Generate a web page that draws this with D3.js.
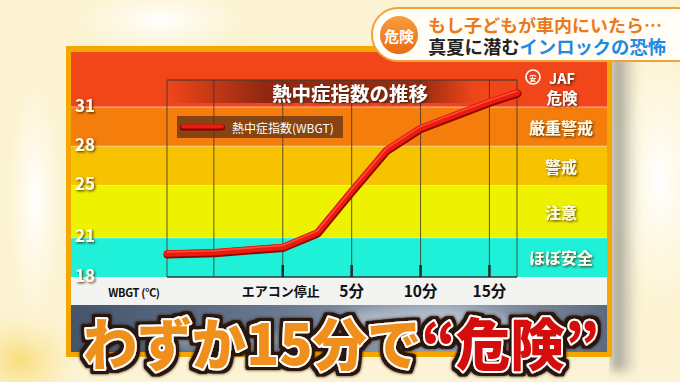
<!DOCTYPE html>
<html><head><meta charset="utf-8">
<script src="https://cdn.jsdelivr.net/npm/d3@7"></script>
<style>
html,body{margin:0;padding:0;background:#fdf6de;overflow:hidden}
svg{display:block}
text{font-family:"Noto Sans CJK JP","Noto Sans",sans-serif}
</style></head>
<body>
<script>
// ---- data ----
const times = [-8.4, -5, 0, 2.5, 5, 7.5, 10, 15, 17];           // minutes after A/C stop
const wbgt  = [19.8, 19.9, 20.3, 21.4, 24.6, 27.7, 29.4, 31.4, 32.1];
const yTicks = [18, 21, 25, 28, 31];
const bandLow  = [18, 21, 25, 28, 31];
const bandHigh = [21, 25, 28, 31, 35.2];
const bandNames = ["ほぼ安全", "注意", "警戒", "厳重警戒", "危険"];
const bandColors = ["#1ff0d8", "#eef200", "#f7c300", "#f57d0c", "#f1461a"];
const xTickVals = [0, 5, 10, 15];
const xTickLabels = ["エアコン停止", "5分", "10分", "15分"];
const gridVals = [-8.4, -5, 0, 5, 10, 15, 17];
const chartTitle = "熱中症指数の推移";
const legendLabel = "熱中症指数(WBGT)";
const yAxisLabel = "WBGT (℃)";
const captionLine1 = "もし子どもが車内にいたら…";
const captionLine2a = "真夏に潜む";
const captionLine2b = "インロックの恐怖";
const headlineText = "わずか15分で“危険”";

const W = 680, H = 382;
const svg = d3.select("body").append("svg").attr("width", W).attr("height", H);
const defs = svg.append("defs");

function lg(id, stops, x1="0", y1="0", x2="0", y2="1") {
  const g = defs.append("linearGradient").attr("id", id).attr("x1", x1).attr("y1", y1).attr("x2", x2).attr("y2", y2);
  stops.forEach(s => g.append("stop").attr("offset", s[0]).attr("stop-color", s[1]).attr("stop-opacity", s[2] ?? 1));
}
function rg(id, stops) {
  const g = defs.append("radialGradient").attr("id", id);
  stops.forEach(s => g.append("stop").attr("offset", s[0]).attr("stop-color", s[1]).attr("stop-opacity", s[2] ?? 1));
}
lg("headFill", [[0, "#f0901e"], [0.655, "#f0901e"], [0.655, "#d4100c"], [1, "#d4100c"]], "0", "0", "1", "0");
lg("photo", [[0, "#44546a"], [0.4, "#6a7a90"], [0.7, "#9aa6b6"], [1, "#5c6a80"]], "0", "0", "1", "0");
lg("titleBar", [[0, "#50140a", 0], [0.28, "#50140a", 0.6], [0.72, "#50140a", 0.55], [0.88, "#50140a", 0]], "0", "0", "1", "0");
lg("shadowR", [[0, "#777", 0.8], [1, "#999", 0]], "0", "0", "1", "0");
lg("circ", [[0, "#f8a040"], [1, "#e86a10"]]);
rg("glow", [[0, "#ffffff", 1], [0.6, "#fff8e0", 0.6], [1, "#fdf0c0", 0]]);
rg("yel", [[0, "#f8dc70", 0.9], [1, "#fbe6a0", 0]]);

const f = defs.append("filter").attr("id", "tsh").attr("x", "-20%").attr("y", "-20%").attr("width", "140%").attr("height", "140%");
f.append("feDropShadow").attr("dx", 1.2).attr("dy", 1.2).attr("stdDeviation", 0.8).attr("flood-color", "#3a1a00").attr("flood-opacity", 0.85);
const f2 = defs.append("filter").attr("id", "bigsh").attr("x", "-10%").attr("y", "-30%").attr("width", "120%").attr("height", "160%");
f2.append("feMorphology").attr("in", "SourceAlpha").attr("operator", "dilate").attr("radius", 2.5).attr("result", "dil");
f2.append("feFlood").attr("flood-color", "#2a1408").attr("result", "fl");
f2.append("feComposite").attr("in", "fl").attr("in2", "dil").attr("operator", "in").attr("result", "outl");
f2.append("feGaussianBlur").attr("in", "outl").attr("stdDeviation", 1.5).attr("result", "bl");
const mg = f2.append("feMerge");
mg.append("feMergeNode").attr("in", "bl");
mg.append("feMergeNode").attr("in", "outl");
mg.append("feMergeNode").attr("in", "SourceGraphic");
const f3 = defs.append("filter").attr("id", "blur4");
f3.append("feGaussianBlur").attr("stdDeviation", 5);

// ---- background ----
svg.append("rect").attr("width", W).attr("height", H).attr("fill", "#fcf3d4");
svg.append("ellipse").attr("cx", 160).attr("cy", 20).attr("rx", 110).attr("ry", 40).attr("fill", "url(#glow)");
svg.append("ellipse").attr("cx", 660).attr("cy", 180).attr("rx", 60).attr("ry", 170).attr("fill", "url(#glow)");
svg.append("ellipse").attr("cx", 20).attr("cy", 360).attr("rx", 60).attr("ry", 50).attr("fill", "url(#yel)");
svg.append("ellipse").attr("cx", 35).attr("cy", 200).attr("rx", 35).attr("ry", 160).attr("fill", "url(#glow)");

const pL = 66, pR = 612, pT = 46, pB = 357;
const iL = 71, iR = 607, iT = 51, iB = 352;

svg.append("rect").attr("x", pR).attr("y", pT + 10).attr("width", 26).attr("height", pB - pT + 4).attr("fill", "url(#shadowR)").attr("filter", "url(#blur4)");
svg.append("rect").attr("x", pL).attr("y", pT).attr("width", pR - pL).attr("height", pB - pT).attr("fill", "#f5a600");

const x = d3.scaleLinear().domain([-8.4, 17]).range([167, 517]);
const y = d3.scaleLinear().domain([18, 31]).range([277, 107]);
const plotTopVal = y.invert(80);

const bands = svg.append("g");
bandLow.forEach((lo, i) => {
  const top = Math.max(iT, y(bandHigh[i]));
  bands.append("rect").attr("x", iL).attr("y", top).attr("width", iR - iL).attr("height", y(lo) - top).attr("fill", bandColors[i]);
});
svg.append("rect").attr("x", iL).attr("y", y(18)).attr("width", iR - iL).attr("height", 28).attr("fill", "#f3f3f1");
svg.append("rect").attr("x", iL).attr("y", y(18) + 28).attr("width", iR - iL).attr("height", iB - y(18) - 28).attr("fill", "url(#photo)");
svg.append("ellipse").attr("cx", 420).attr("cy", 322).attr("rx", 90).attr("ry", 14).attr("fill", "#c8d0da").attr("opacity", 0.6).attr("filter", "url(#blur4)");
svg.append("ellipse").attr("cx", 220).attr("cy", 340).attr("rx", 70).attr("ry", 10).attr("fill", "#b0bac8").attr("opacity", 0.5).attr("filter", "url(#blur4)");

svg.append("g").selectAll("line").data([21, 25, 28, 31]).join("line")
  .attr("x1", iL).attr("x2", iR).attr("y1", d => y(d)).attr("y2", d => y(d))
  .attr("stroke", "#ffffff").attr("stroke-opacity", 0.55).attr("stroke-width", 1);

svg.append("rect").attr("x", x(-8.4)).attr("y", y(plotTopVal)).attr("width", x(17) - x(-8.4)).attr("height", 23).attr("fill", "url(#titleBar)");

svg.append("g").selectAll("line").data(gridVals).join("line")
  .attr("x1", d => x(d)).attr("x2", d => x(d)).attr("y1", y(plotTopVal)).attr("y2", y(18))
  .attr("stroke", "#3e3428").attr("stroke-opacity", 0.75).attr("stroke-width", 1.1);
svg.append("line").attr("x1", x(-8.4)).attr("x2", x(17)).attr("y1", y(plotTopVal)).attr("y2", y(plotTopVal)).attr("stroke", "#4a3a30").attr("stroke-width", 1.4).attr("stroke-opacity", 0.8);
svg.append("line").attr("x1", x(-8.4)).attr("x2", x(17)).attr("y1", y(18)).attr("y2", y(18)).attr("stroke", "#2f3a38").attr("stroke-width", 1.6);
svg.append("g").selectAll("line").data(xTickVals).join("line")
  .attr("x1", d => x(d)).attr("x2", d => x(d)).attr("y1", y(18) - 12).attr("y2", y(18))
  .attr("stroke", "#1e2a28").attr("stroke-width", 2.5);

svg.append("text").attr("x", 350).attr("y", 92).attr("text-anchor", "middle").attr("dominant-baseline", "central")
  .attr("font-size", 19.5).attr("font-weight", 700).attr("fill", "#fff").attr("filter", "url(#tsh)").text(chartTitle);

svg.append("rect").attr("x", 177).attr("y", 116).attr("width", 166).attr("height", 22).attr("fill", "#5a2e14").attr("fill-opacity", 0.72);
svg.append("line").attr("x1", 183).attr("x2", 222).attr("y1", 127.5).attr("y2", 127.5).attr("stroke", "#8a0000").attr("stroke-width", 6).attr("stroke-linecap", "round");
svg.append("line").attr("x1", 183).attr("x2", 222).attr("y1", 126.5).attr("y2", 126.5).attr("stroke", "#f01a10").attr("stroke-width", 4).attr("stroke-linecap", "round");
svg.append("text").attr("x", 232).attr("y", 127.5).attr("dominant-baseline", "central").attr("font-size", 12).attr("fill", "#fff").text(legendLabel);

const line = d3.line().x((d, i) => x(times[i])).y(d => y(d));
svg.append("path").attr("d", line(wbgt)).attr("fill", "none").attr("stroke", "#8a0800").attr("stroke-width", 8).attr("stroke-linejoin", "round").attr("stroke-linecap", "round").attr("transform", "translate(0.5,1)");
svg.append("path").attr("d", line(wbgt)).attr("fill", "none").attr("stroke", "#ee1a10").attr("stroke-width", 6.5).attr("stroke-linejoin", "round").attr("stroke-linecap", "round");
svg.append("path").attr("d", line(wbgt)).attr("fill", "none").attr("stroke", "#ff6a50").attr("stroke-width", 1.5).attr("stroke-opacity", 0.7).attr("stroke-linejoin", "round").attr("transform", "translate(0,-1.5)");

svg.append("g").selectAll("text").data(yTicks).join("text")
  .attr("x", 85).attr("y", d => y(d) - 3).attr("text-anchor", "middle").attr("dominant-baseline", "central")
  .attr("font-size", 17).attr("font-weight", 700).attr("fill", "#fffbe8").attr("filter", "url(#tsh)").text(d => d);

svg.append("g").selectAll("text").data(xTickVals).join("text")
  .attr("x", d => x(d) - (d === 0 ? 2 : 0)).attr("y", 290).attr("text-anchor", "middle").attr("dominant-baseline", "central")
  .attr("font-size", (d, i) => i === 0 ? 13 : 15.5).attr("font-weight", 700).attr("fill", "#111").text((d, i) => xTickLabels[i]);
svg.append("text").attr("x", 134).attr("y", 292).attr("text-anchor", "middle").attr("dominant-baseline", "central")
  .attr("font-size", 11).attr("font-weight", 700).attr("fill", "#111").attr("letter-spacing", -0.3).text(yAxisLabel);

const rx = 561;
bandNames.forEach((n, i) => {
  if (i === 4) return;
  svg.append("text").attr("x", rx).attr("y", (y(bandLow[i]) + y(bandHigh[i])) / 2).attr("text-anchor", "middle").attr("dominant-baseline", "central")
    .attr("font-size", 16).attr("font-weight", 700).attr("fill", "#fffbe8").attr("filter", "url(#tsh)").text(n);
});
svg.append("circle").attr("cx", 533).attr("cy", 77).attr("r", 7).attr("fill", "#e8401a").attr("stroke", "#fff").attr("stroke-width", 1.6);
svg.append("text").attr("x", 533).attr("y", 77.5).attr("text-anchor", "middle").attr("dominant-baseline", "central").attr("font-size", 7).attr("font-weight", 700).attr("fill", "#fff").text("安");
svg.append("text").attr("x", 562).attr("y", 77).attr("text-anchor", "middle").attr("dominant-baseline", "central")
  .attr("font-size", 14.5).attr("font-weight", 700).attr("fill", "#fff").attr("filter", "url(#tsh)").text("JAF");
svg.append("text").attr("x", 562).attr("y", 97).attr("text-anchor", "middle").attr("dominant-baseline", "central")
  .attr("font-size", 15.5).attr("font-weight", 700).attr("fill", "#fff").attr("filter", "url(#tsh)").text(bandNames[4]);

// headline
const headG = svg.append("g").attr("filter", "url(#bigsh)");
headG.append("text").attr("x", 83).attr("y", 365).attr("font-size", 56).attr("font-weight", 900)
  .attr("textLength", 516).attr("lengthAdjust", "spacingAndGlyphs")
  .attr("fill", "url(#headFill)")
  .attr("stroke", "#fff").attr("stroke-width", 4).attr("stroke-linejoin", "round").attr("paint-order", "stroke")
  .text(headlineText);

svg.append("rect").attr("x", 372).attr("y", 8).attr("width", 330).attr("height", 53).attr("rx", 26)
  .attr("fill", "#fffdf6").attr("stroke", "#f0a238").attr("stroke-width", 2);
svg.append("circle").attr("cx", 399).attr("cy", 35).attr("r", 20).attr("fill", "url(#circ)").attr("stroke", "#fff").attr("stroke-width", 2);
svg.append("text").attr("x", 399).attr("y", 35).attr("text-anchor", "middle").attr("dominant-baseline", "central")
  .attr("font-size", 15).attr("font-weight", 700).attr("fill", "#fff").text("危険");
svg.append("text").attr("x", 428).attr("y", 24).attr("dominant-baseline", "central").attr("font-size", 17.5).attr("font-weight", 700)
  .attr("fill", "#ea7a1c").attr("textLength", 234).attr("lengthAdjust", "spacingAndGlyphs").text(captionLine1);
const c2 = svg.append("text").attr("x", 428).attr("y", 46).attr("dominant-baseline", "central").attr("font-size", 18).attr("font-weight", 700)
  .attr("textLength", 238).attr("lengthAdjust", "spacingAndGlyphs");
c2.append("tspan").attr("fill", "#222").text(captionLine2a);
c2.append("tspan").attr("fill", "#1e8ae2").text(captionLine2b);
</script>
</body></html>
